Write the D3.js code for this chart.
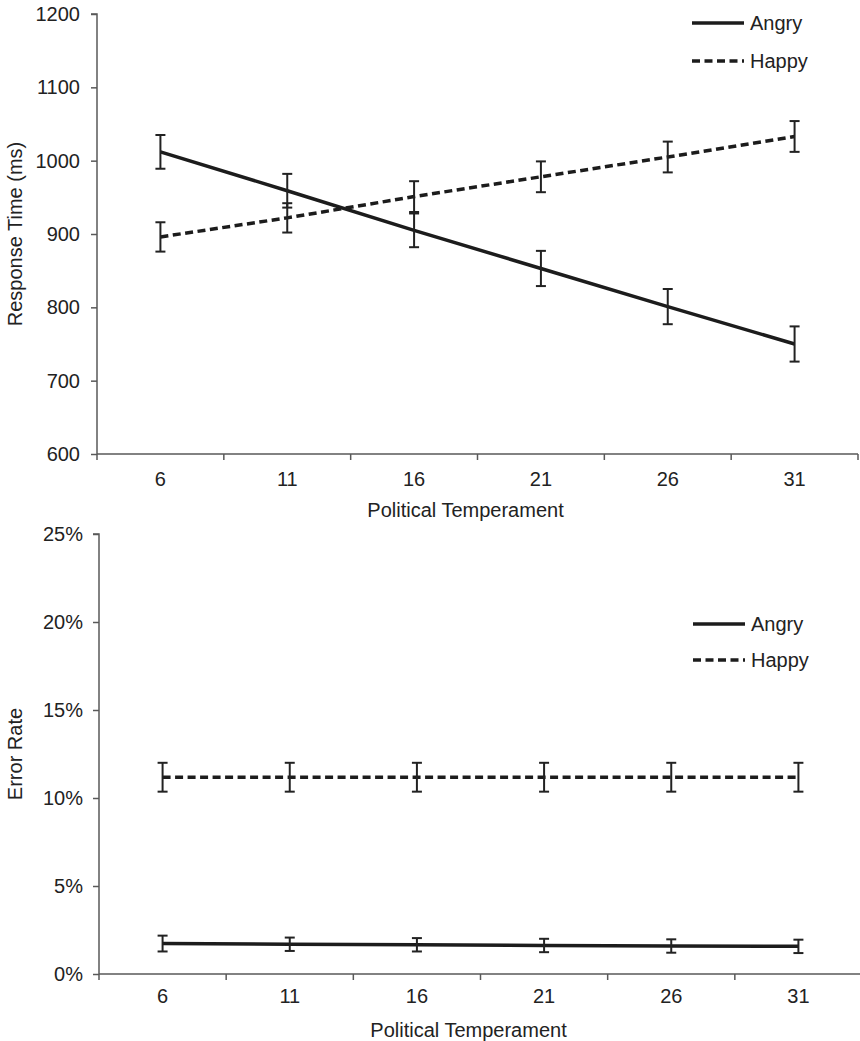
<!DOCTYPE html>
<html>
<head>
<meta charset="utf-8">
<script src="https://cdn.jsdelivr.net/npm/d3@7"></script>
<style>
  body { margin: 0; background: #fff; }
  svg text { font-family: "Liberation Sans", Arial, sans-serif; fill: #222; }
  .axis path, .axis line { stroke: #595959; stroke-width: 1.5; }
  .axis text { font-size: 20px; }
</style>
</head>
<body>
<div id="chart"></div>
<script>
// categories (political temperament)
const temperament = ["6", "11", "16", "21", "26", "31"];

// top panel: response time (ms)
const rtAngry = [1012, 959, 905, 853, 801, 750];
const rtAngryErr = [23, 23, 23, 24, 24, 24];
const rtHappy = [896, 922, 951, 978, 1005, 1033];
const rtHappyErr = [20, 20, 21, 21, 21, 21];
const rtTicks = [600, 700, 800, 900, 1000, 1100, 1200];

// bottom panel: error rate
const erAngry = [0.0173, 0.0169, 0.0166, 0.0162, 0.0159, 0.0157];
const erAngryErr = [0.0045, 0.0038, 0.0038, 0.0038, 0.0038, 0.0038];
const erHappy = [0.1118, 0.1118, 0.1118, 0.1118, 0.1118, 0.1118];
const erHappyErr = [0.0082, 0.0082, 0.0082, 0.0082, 0.0082, 0.0082];
const erTicks = [0, 0.05, 0.10, 0.15, 0.20, 0.25];

const seriesNames = ["Angry", "Happy"];

var svg = d3.select("#chart").append("svg")
    .attr("width", 860)
    .attr("height", 1041);

function drawPanel(opt) {
  var x = d3.scaleBand()
    .domain(temperament)
    .range(opt.xRange)
    .paddingInner(0).paddingOuter(0);

  var y = d3.scaleLinear()
    .domain(opt.yDomain)
    .range(opt.yRange);

  var g = svg.append("g");
  var cx = function(d, i) { return x(temperament[i]) + x.bandwidth() / 2; };

  // y axis
  g.append("g")
    .attr("class", "axis")
    .attr("transform", "translate(" + opt.xRange[0] + ",0)")
    .call(d3.axisLeft(y).tickValues(opt.ticks).tickSize(6).tickPadding(opt.yPad).tickFormat(opt.fmt))
    .call(a => a.select(".domain").attr("d", "M0," + opt.yRange[0] + "V" + opt.yRange[1] + "H-6"));

  // x axis: boundary ticks
  var bounds = temperament.map(t => x(t)).concat([opt.xRange[1]]);
  var xa = g.append("g")
    .attr("class", "axis")
    .attr("transform", "translate(0," + opt.yRange[0] + ")");
  xa.append("path")
    .attr("d", "M" + opt.xRange[0] + ",0H" + opt.xRange[1])
    .attr("fill", "none");
  xa.selectAll("line.btick").data(bounds).enter().append("line")
    .attr("class", "btick")
    .attr("x1", d => d).attr("x2", d => d)
    .attr("y1", 0).attr("y2", 6);

  // x labels
  g.append("g")
    .attr("class", "axis")
    .attr("transform", "translate(0," + opt.yRange[0] + ")")
    .call(d3.axisBottom(x).tickSize(0).tickPadding(opt.xPad))
    .call(a => a.select(".domain").remove());

  // axis titles
  g.append("text")
    .attr("x", (opt.xRange[0] + opt.xRange[1]) / 2 - 12)
    .attr("y", opt.xTitleY)
    .attr("text-anchor", "middle")
    .style("font-size", "20px")
    .text("Political Temperament");

  g.append("text")
    .attr("transform", "rotate(-90)")
    .attr("x", -(opt.yRange[0] + opt.yRange[1]) / 2)
    .attr("y", 22)
    .attr("text-anchor", "middle")
    .style("font-size", "20px")
    .text(opt.yTitle);

  var line = d3.line()
    .x((d, i) => cx(d, i))
    .y(d => y(d));

  var series = [
    { name: "Angry", vals: opt.angry, err: opt.angryErr, dash: null },
    { name: "Happy", vals: opt.happy, err: opt.happyErr, dash: "8,4.5" }
  ];

  series.forEach(function(s) {
    g.append("path")
      .datum(s.vals)
      .attr("fill", "none")
      .attr("stroke", "#1c1c1c")
      .attr("stroke-width", 3.5)
      .attr("stroke-dasharray", s.dash)
      .attr("d", line);

    var eb = g.append("g").attr("stroke", "#222").attr("stroke-width", 2);
    s.vals.forEach(function(v, i) {
      var px = cx(v, i);
      var top = y(v + s.err[i]);
      var bot = y(v - s.err[i]);
      eb.append("line").attr("x1", px).attr("x2", px).attr("y1", top).attr("y2", bot);
      eb.append("line").attr("x1", px - 5).attr("x2", px + 5).attr("y1", top).attr("y2", top);
      eb.append("line").attr("x1", px - 5).attr("x2", px + 5).attr("y1", bot).attr("y2", bot);
    });
  });

  // legend
  var lg = g.append("g");
  series.forEach(function(s, i) {
    var ly = opt.legendY[i];
    lg.append("line")
      .attr("x1", opt.legendX).attr("x2", opt.legendX + 52)
      .attr("y1", ly).attr("y2", ly)
      .attr("stroke", "#1c1c1c")
      .attr("stroke-width", 3.5)
      .attr("stroke-dasharray", s.dash);
    lg.append("text")
      .attr("x", opt.legendX + 58)
      .attr("y", ly)
      .attr("dy", "0.35em")
      .style("font-size", "20px")
      .text(s.name);
  });
}

drawPanel({
  xRange: [97, 858], yRange: [454, 14], yDomain: [600, 1200],
  ticks: rtTicks, fmt: d3.format("d"), yPad: 11, xPad: 18, xTitleY: 517,
  yTitle: "Response Time (ms)",
  angry: rtAngry, angryErr: rtAngryErr, happy: rtHappy, happyErr: rtHappyErr,
  legendX: 692, legendY: [23, 61]
});

drawPanel({
  xRange: [99, 862], yRange: [974, 534], yDomain: [0, 0.25],
  ticks: erTicks, fmt: d3.format(".0%"), yPad: 10, xPad: 15, xTitleY: 1037,
  yTitle: "Error Rate",
  angry: erAngry, angryErr: erAngryErr, happy: erHappy, happyErr: erHappyErr,
  legendX: 693, legendY: [624, 660]
});
</script>
</body>
</html>
